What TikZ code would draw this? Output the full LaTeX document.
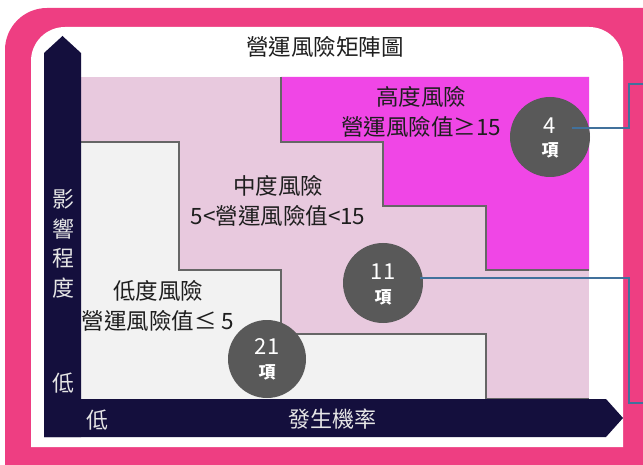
\documentclass[tikz,border=0pt]{standalone}
\usepackage{fontspec}
\setmainfont{Noto Sans CJK TC}
\definecolor{frame}{HTML}{EE3E82}
\definecolor{navy}{HTML}{140F3D}
\definecolor{hi}{HTML}{F046E6}
\definecolor{mid}{HTML}{E8C9DE}
\definecolor{lo}{HTML}{F2F2F2}
\definecolor{bubble}{HTML}{595959}
\definecolor{edge}{HTML}{666666}
\definecolor{conncol}{HTML}{41719C}
\definecolor{txt}{HTML}{1E1E1E}
\definecolor{axistxt}{HTML}{E6E6E6}
\begin{document}
\begin{tikzpicture}[x=1pt,y=-1pt,
  lbl/.style={font=\fontsize{22.5}{30}\selectfont, text=txt, align=center, inner sep=0pt},
  axis/.style={font=\fontsize{22}{29.5}\selectfont, text=axistxt, align=center, inner sep=0pt},
  bub/.style={circle, fill=bubble, minimum size=80pt, inner sep=0pt},
  num/.style={font=\fontsize{22}{24}\selectfont, text=white, inner sep=0pt},
  item/.style={font=\bfseries\fontsize{17}{20}\selectfont, text=white, inner sep=0pt},
  regionedge/.style={draw=edge, line width=1.5pt},
  conn/.style={draw=conncol, line width=1.2pt}]
\useasboundingbox (0,0) rectangle (643,465);
\begin{scope}
\clip (0,0) rectangle (643,465);
\fill[frame, rounded corners=42pt] (5,8) rectangle (690,520);
\fill[white] (31,447) [rounded corners=34pt] -- (31,27) -- (623,27) [sharp corners] -- (623,447) -- cycle;
\end{scope}
% matrix background
\fill[mid] (81,77) rectangle (589,399);
% high region
\fill[hi] (281,77) -- (589,77) -- (589,270) -- (486,270) -- (486,206) -- (383,206) -- (383,142) -- (281,142) -- cycle;
\draw[regionedge] (589,270) -- (486,270) -- (486,206) -- (383,206) -- (383,142) -- (281,142) -- (281,77);
% low region
\fill[lo] (81,142) -- (179,142) -- (179,270) -- (281,270) -- (281,334) -- (486,334) -- (486,399) -- (81,399) -- cycle;
\draw[regionedge] (81,142) -- (179,142) -- (179,270) -- (281,270) -- (281,334) -- (486,334) -- (486,399) -- (589,399);
% axes
\fill[navy] (44,437) -- (44,53) -- (62.5,36) -- (81,53) -- (81,437) -- cycle;
\fill[navy] (44,399) -- (606,399) -- (623,418) -- (606,437) -- (44,437) -- cycle;
% texts
\node[lbl] (title) at (325,47) {營運風險矩陣圖};
\node[lbl] (high) at (421,112) {高度風險\\營運風險值≥15};
\node[lbl] (medium) at (278,201) {中度風險\\5<營運風險值<15};
\node[lbl] (low) at (158,306) {低度風險\\營運風險值≤ 5};
\node[axis] (yaxis) at (63,244) {影\\響\\程\\度};
\node[axis] (ylow) at (63,383) {低};
\node[axis] (xlow) at (97,420) {低};
\node[axis] (xaxis) at (332,419) {發生機率};
% bubbles
\node[bub] (c4) at (550,137) {};
\node[num] (n4) at (550,126) {4};
\node[item] (i4) at (550,150) {項};
\node[bub] (c11) at (383,283) {};
\node[num] (n11) at (383,272) {11};
\node[item] (i11) at (383,297) {項};
\node[bub, minimum size=78pt] (c21) at (267,359) {};
\node[num] (n21) at (267,347) {21};
\node[item] (i21) at (267,372) {項};
% connectors
\coordinate (s4) at (572,128);
\coordinate (e4) at (645,84);
\coordinate (s11) at (420,278);
\coordinate (e11) at (645,403);
\draw[conn] (s4) -- (629,128) -- (629,84) -- (e4);
\draw[conn] (s11) -- (629,278) -- (629,403) -- (e11);
\end{tikzpicture}
\end{document}
